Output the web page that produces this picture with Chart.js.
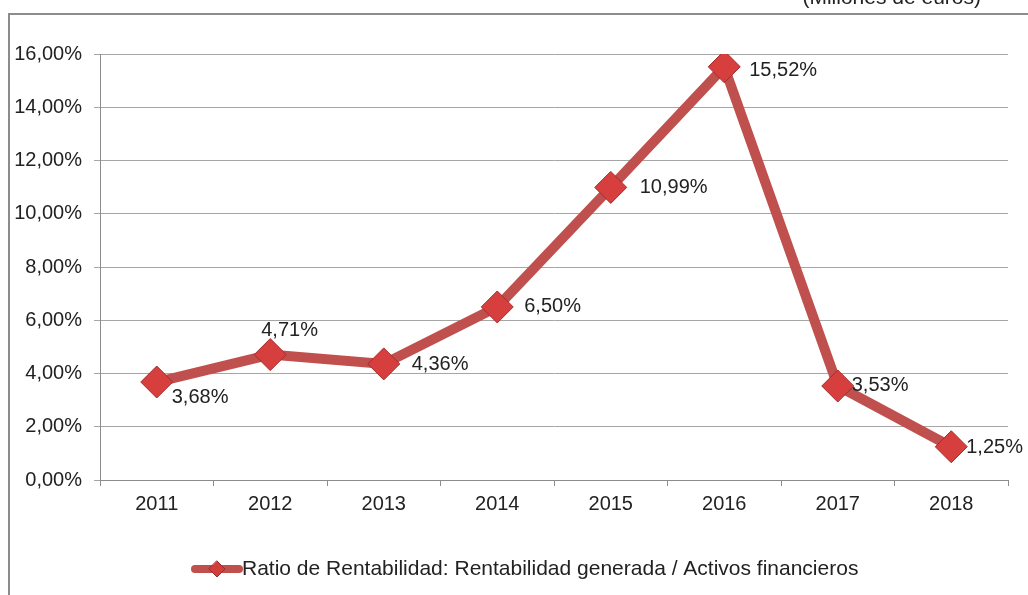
<!DOCTYPE html>
<html>
<head>
<meta charset="utf-8">
<script src="https://cdn.jsdelivr.net/npm/chart.js@4"></script>
<style>
  html, body { margin: 0; padding: 0; background: #fff; }
  #wrap { width: 1028px; height: 595px; }
</style>
</head>
<body>
<div id="wrap"><canvas id="ratioChart" width="1028" height="595"></canvas></div>
<script>
// Data
const years = ['2011', '2012', '2013', '2014', '2015', '2016', '2017', '2018'];
const ratio = [3.68, 4.71, 4.36, 6.50, 10.99, 15.52, 3.53, 1.25];
const seriesLabel = 'Ratio de Rentabilidad: Rentabilidad generada / Activos financieros';
const unitNote = '(Millones de euros)';

// where each value label sits relative to its marker
const labelOffsets = [[15, 15], [-9, -24], [28, 1], [27, 0], [29, 0], [25, 4], [14, -1], [15, 1]];

const FONT = 'Liberation Sans, Arial, sans-serif';
const fmt = v => v.toFixed(2).replace('.', ',') + '%';

// frame, note at the top, value labels and legend
const extras = {
    id: 'extras',
    beforeDraw(chart) {
        const ctx = chart.ctx;
        ctx.save();
        ctx.strokeStyle = '#8c8c8c';
        ctx.lineWidth = 2;
        ctx.beginPath();
        ctx.moveTo(9, 595);
        ctx.lineTo(9, 14);
        ctx.lineTo(1028, 14);
        ctx.stroke();
        ctx.fillStyle = '#222';
        ctx.font = '21px ' + FONT;
        ctx.textAlign = 'right';
        ctx.textBaseline = 'alphabetic';
        ctx.fillText(unitNote, 981, 4);
        ctx.restore();
    },
    afterDatasetsDraw(chart) {
        const ctx = chart.ctx;
        const meta = chart.getDatasetMeta(0);
        ctx.save();
        ctx.fillStyle = '#222';
        ctx.font = '20px ' + FONT;
        ctx.textAlign = 'left';
        ctx.textBaseline = 'middle';
        meta.data.forEach((pt, i) => {
            const off = labelOffsets[i];
            ctx.fillText(fmt(ratio[i]), pt.x + off[0], pt.y + off[1]);
        });

        // legend
        const ly = 569;
        ctx.strokeStyle = '#c0504d';
        ctx.lineWidth = 8;
        ctx.lineCap = 'round';
        ctx.beginPath();
        ctx.moveTo(195, ly);
        ctx.lineTo(239, ly);
        ctx.stroke();
        ctx.fillStyle = '#d13d3b';
        ctx.strokeStyle = '#9e2b29';
        ctx.lineWidth = 1;
        ctx.beginPath();
        ctx.moveTo(217, ly - 8);
        ctx.lineTo(225, ly);
        ctx.lineTo(217, ly + 8);
        ctx.lineTo(209, ly);
        ctx.closePath();
        ctx.fill();
        ctx.stroke();
        ctx.fillStyle = '#222';
        ctx.font = '21px ' + FONT;
        ctx.fillText(seriesLabel, 242, ly);
        ctx.restore();
    }
};

new Chart(document.getElementById('ratioChart'), {
    type: 'line',
    data: {
        labels: years,
        datasets: [{
            label: seriesLabel,
            data: ratio,
            borderColor: '#c0504d',
            borderWidth: 10,
            tension: 0,
            pointStyle: 'rectRot',
            pointRadius: 16,
            pointHoverRadius: 16,
            pointBackgroundColor: '#d63f3d',
            pointBorderColor: '#a32c2a',
            pointBorderWidth: 1
        }]
    },
    options: {
        responsive: false,
        animation: false,
        layout: { padding: { left: 0, top: 54, right: 20, bottom: 0 } },
        plugins: {
            legend: { display: false },
            tooltip: { enabled: false }
        },
        scales: {
            x: {
                offset: true,
                afterFit: s => { s.height = 115; },
                grid: { offset: true, drawOnChartArea: false, tickLength: 6, color: '#8c8c8c' },
                border: { color: '#8c8c8c', width: 1 },
                ticks: { color: '#222', font: { family: FONT, size: 20 }, padding: 6 }
            },
            y: {
                min: 0,
                max: 16,
                afterFit: s => { s.width = 100; },
                grid: { color: '#a6a6a6', tickLength: 6 },
                border: { color: '#8c8c8c', width: 1 },
                ticks: {
                    stepSize: 2,
                    color: '#222',
                    font: { family: FONT, size: 20 },
                    padding: 12,
                    callback: v => fmt(v)
                }
            }
        }
    },
    plugins: [extras]
});
</script>
</body>
</html>
